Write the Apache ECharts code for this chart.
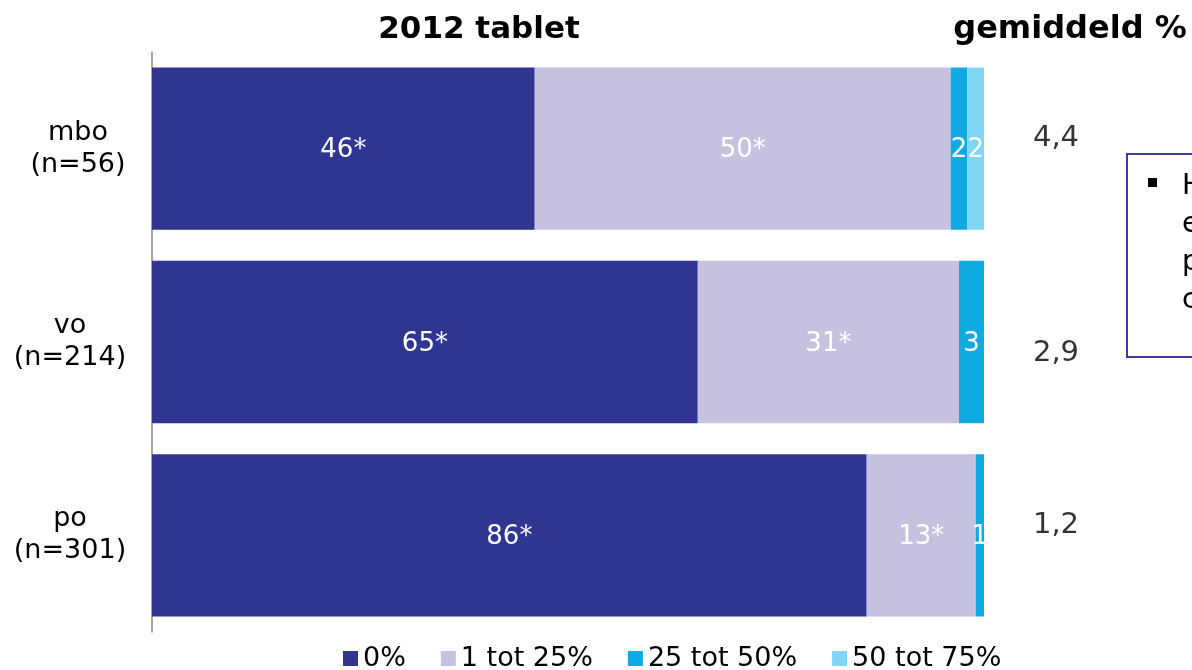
<!DOCTYPE html>
<html>
<head>
<meta charset="utf-8">
<script src="https://cdn.jsdelivr.net/npm/echarts@6/dist/echarts.min.js"></script>
<style>html,body{margin:0;padding:0;background:#fff}#c{width:1192px;height:670px}</style>
</head>
<body>
<div id="c"></div>
<script>
var categories = ['mbo\n(n=56)', 'vo\n(n=214)', 'po\n(n=301)'];
var seriesNames = ['0%', '1 tot 25%', '25 tot 50%', '50 tot 75%'];
var values0 = [46, 65.6, 85.9];
var values1 = [50, 31.4, 13.1];
var values2 = [2, 3, 1];
var values3 = [2, 0, 0];
var labels0 = ['46*', '65*', '86*'];
var labels1 = ['50*', '31*', '13*'];
var labels2 = ['2', '3', '1'];
var labels3 = ['2', '', ''];
var averages = [4.4, 2.9, 1.2];
var boxLines = ['Het gemiddelde', 'eerste aandeel', 'percentage', 'computers'];

var colors = ['#2f3590', '#c5c2df', '#10aae2', '#80d4f6'];
var font = 'DejaVu Sans, Verdana, sans-serif';
var chart = echarts.init(document.getElementById('c'), null, {renderer: 'canvas'});

function barSeries(i, vals, labs) {
  return {
    name: seriesNames[i], type: 'bar', stack: 'total',
    xAxisIndex: 0, yAxisIndex: 0,
    barCategoryGap: '16%',
    itemStyle: {color: colors[i]},
    label: {
      show: true, position: 'inside', color: '#fff',
      fontFamily: font, fontSize: 26, offset: [0, 2],
      formatter: function (p) { return labs[p.dataIndex]; }
    },
    emphasis: {disabled: true},
    data: vals
  };
}

var avgOffsets = [[0, -10], [0, 11], [0, -10]];
var catPads = [[0, 0, 0, 16], [0, 0, 0, 0], [0, 0, 0, 0]];

var option = {
  animation: false,
  title: [
    {text: '2012 tablet', left: 474, top: 9, textAlign: 'center',
     textStyle: {fontFamily: font, fontSize: 31, fontWeight: 'bold', color: '#000'}},
    {text: 'gemiddeld %', left: 1065, top: 9, textAlign: 'center',
     textStyle: {fontFamily: font, fontSize: 32, fontWeight: 'bold', color: '#000'}}
  ],
  legend: {
    left: 338, top: 640, itemWidth: 15, itemHeight: 15, itemGap: 35,
    icon: 'rect',
    textStyle: {fontFamily: font, fontSize: 27, color: '#000'},
    data: seriesNames
  },
  grid: [
    {left: 152, right: 208, top: 52, bottom: 38, containLabel: false, outerBoundsMode: 'none'},
    {left: 1020, width: 72, top: 52, bottom: 38, containLabel: false, outerBoundsMode: 'none'}
  ],
  xAxis: [
    {type: 'value', gridIndex: 0, min: 0, max: 100, show: false},
    {type: 'value', gridIndex: 1, min: -1, max: 1, show: false}
  ],
  yAxis: [
    {type: 'category', gridIndex: 0, inverse: true,
     data: categories.map(function (c, i) {
       return {value: c, textStyle: {align: 'center', padding: catPads[i]}};
     }),
     axisLine: {show: true, lineStyle: {color: '#888', width: 1.5}},
     axisTick: {show: false},
     axisLabel: {fontFamily: font, fontSize: 27, color: '#000', align: 'center',
                 margin: 82, lineHeight: 32}},
    {type: 'category', gridIndex: 1, inverse: true, data: categories, show: false}
  ],
  series: [
    barSeries(0, values0, labels0),
    barSeries(1, values1, labels1),
    barSeries(2, values2, labels2),
    barSeries(3, values3, labels3),
    {
      type: 'scatter', xAxisIndex: 1, yAxisIndex: 1, symbolSize: 0,
      silent: true,
      data: averages.map(function (v, i) {
        return {value: [0, i], label: {offset: avgOffsets[i]}};
      }),
      label: {
        show: true, position: 'inside', color: '#000', fontFamily: font, fontSize: 29,
        formatter: function (p) { return averages[p.dataIndex].toFixed(1).replace('.', ','); }
      }
    }
  ],
  graphic: [
    {type: 'rect', left: 1126, top: 153, shape: {width: 200, height: 203},
     style: {fill: '#fff', stroke: '#3a3d9c', lineWidth: 2}},
    {type: 'rect', left: 1148, top: 178, shape: {width: 9, height: 9}, style: {fill: '#000'}},
    {type: 'text', left: 1182, top: 168,
     style: {text: boxLines.join('\n'), fontFamily: font, fontSize: 28, lineHeight: 38, fill: '#000'}}
  ]
};
chart.setOption(option);
</script>
</body>
</html>
